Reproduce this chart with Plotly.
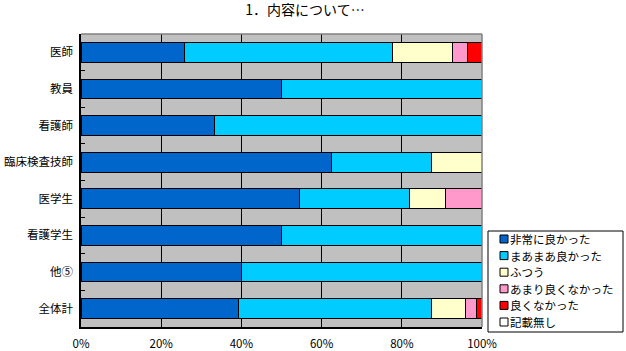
import plotly.graph_objects as go

categories = ["医師", "教員", "看護師", "臨床検査技師", "医学生", "看護学生", "他⑤", "全体計"]
series_names = ["非常に良かった", "まあまあ良かった", "ふつう", "あまり良くなかった", "良くなかった", "記載無し"]
colors = ["#0066CC", "#00CCFF", "#FFFFCC", "#FF99CC", "#FF0000", "#FFFFFF"]

very_good = [0.259, 0.50, 0.333, 0.625, 0.545, 0.50, 0.40, 0.394]
fairly_good = [0.519, 0.50, 0.667, 0.250, 0.273, 0.50, 0.60, 0.479]
average = [0.148, 0.0, 0.0, 0.125, 0.091, 0.0, 0.0, 0.085]
not_very_good = [0.037, 0.0, 0.0, 0.0, 0.091, 0.0, 0.0, 0.028]
not_good = [0.037, 0.0, 0.0, 0.0, 0.0, 0.0, 0.0, 0.014]
no_answer = [0.0, 0.0, 0.0, 0.0, 0.0, 0.0, 0.0, 0.0]

series_values = [very_good, fairly_good, average, not_very_good, not_good, no_answer]
x_ticks = [0, 0.2, 0.4, 0.6, 0.8, 1.0]
x_tick_labels = ["0%", "20%", "40%", "60%", "80%", "100%"]
title_text = "1．内容について…"

FONT = "Noto Sans CJK JP, Noto Sans, sans-serif"
W, H = 626, 351
L, R, T, B = 81, 482, 34, 327

fig = go.Figure()
for name, vals, col in zip(series_names, series_values, colors):
    fig.add_trace(go.Bar(
        y=categories,
        x=[v if v > 0 else None for v in vals],
        name=name,
        orientation="h",
        marker=dict(color=col, line=dict(color="black", width=1)),
        showlegend=False,
        hoverinfo="x+y+name",
    ))

def px_x(p):
    return (p - L) / (R - L)

def px_y(p):
    return (B - p) / (B - T)

shapes = [
    dict(type="line", xref="paper", yref="paper", x0=0, x1=1, y0=1, y1=1,
         line=dict(color="#808080", width=1.5)),
    dict(type="line", xref="paper", yref="paper", x0=1, x1=1, y0=0, y1=1,
         line=dict(color="#808080", width=1.5)),
    dict(type="rect", xref="paper", yref="paper",
         x0=px_x(488), x1=px_x(623), y0=px_y(332), y1=px_y(231),
         line=dict(color="black", width=1), fillcolor="white"),
]
annotations = []
for i, (name, col) in enumerate(zip(series_names, colors)):
    cy = 239 + i * 16.6
    shapes.append(dict(type="rect", xref="paper", yref="paper",
                       x0=px_x(500), x1=px_x(508), y0=px_y(cy + 4), y1=px_y(cy - 4),
                       line=dict(color="black", width=1), fillcolor=col))
    annotations.append(dict(xref="paper", yref="paper", x=px_x(509), y=px_y(cy),
                            text=name, showarrow=False, xanchor="left", yanchor="middle",
                            borderpad=0,
                            font=dict(family=FONT, size=11.5, color="black")))

fig.update_layout(
    width=W, height=H,
    margin=dict(l=L, r=W - R, t=T, b=H - B, pad=0, autoexpand=False),
    barmode="stack",
    bargap=0.46,
    paper_bgcolor="white",
    plot_bgcolor="#C0C0C0",
    title=dict(text=title_text, x=305 / W, xanchor="center", y=1 - 10 / H, yanchor="middle",
               font=dict(family=FONT, size=14, color="black")),
    font=dict(family=FONT, size=12, color="black"),
    showlegend=False,
    shapes=shapes,
    annotations=annotations,
)
fig.update_xaxes(
    range=[0, 1], tickvals=x_ticks, ticktext=x_tick_labels,
    showgrid=True, gridcolor="black", gridwidth=1,
    showline=True, linecolor="black", linewidth=1.5,
    zeroline=False, ticks="", ticklabelstandoff=5,
    tickfont=dict(family=FONT, size=11.5, color="black"),
    automargin=False, fixedrange=True,
)
fig.update_yaxes(
    categoryorder="array", categoryarray=categories, autorange="reversed",
    showgrid=False, showline=True, linecolor="black", linewidth=1.5,
    ticks="inside", tickson="boundaries", ticklen=4, tickcolor="black",
    ticklabelstandoff=4,
    tickfont=dict(family=FONT, size=11.5, color="black"),
    automargin=False, fixedrange=True,
)
fig.write_html("out.html")
